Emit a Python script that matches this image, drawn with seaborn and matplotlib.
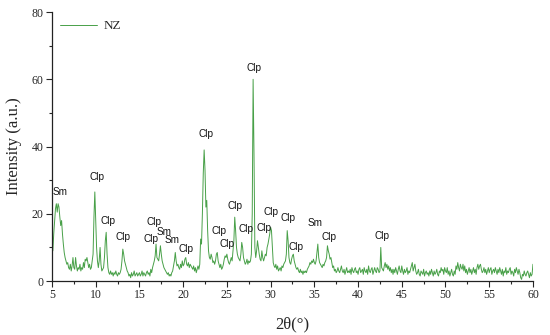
"""
XRD pattern of the NZ sample (clinoptilolite / smectite peaks)
"""

import numpy as np
import pandas as pd
import matplotlib
matplotlib.use("Agg")
import matplotlib.pyplot as plt
from matplotlib.ticker import MultipleLocator
import seaborn as sns

# scan grid, 2-theta in degrees (step 0.1)
two_theta = np.round(np.arange(5.0, 60.05, 0.1), 1)

# intensity, 5 degrees per block
i_05_10 = [10.5, 9.0, 14.0, 18.0, 21.5, 23.0, 20.5, 23.0, 22.0, 19.0,
           16.5, 18.0, 14.0, 11.0, 8.5, 7.0, 6.0, 5.0, 5.5, 4.0,
           3.5, 5.0, 3.0, 4.5, 7.0, 4.0, 3.5, 7.0, 4.5, 3.0,
           4.0, 3.5, 5.0, 3.0, 4.0, 3.5, 5.5, 4.0, 6.5, 6.0,
           7.0, 5.5, 4.0, 5.0, 3.5, 4.0, 6.0, 8.0, 19.0, 26.5]
i_10_15 = [18.0, 10.0, 6.0, 4.0, 6.0, 10.0, 5.0, 3.0, 3.5, 4.0,
           7.0, 12.0, 14.5, 8.0, 4.0, 2.5, 2.0, 3.0, 2.0, 2.5,
           1.5, 2.5, 2.0, 3.0, 2.0, 1.5, 2.5, 2.0, 2.5, 3.5,
           6.0, 9.5, 8.0, 6.0, 5.0, 4.0, 3.0, 2.5, 1.5, 2.0,
           1.0, 2.5, 1.5, 2.0, 3.0, 1.5, 2.0, 2.5, 1.5, 2.0]
i_15_20 = [2.5, 1.5, 2.0, 3.0, 1.5, 2.5, 2.0, 1.5, 2.5, 3.0,
           2.0, 2.5, 1.5, 3.5, 2.5, 4.0, 5.0, 6.0, 7.5, 11.0,
           7.0, 6.5, 6.0, 8.0, 10.5, 8.0, 6.0, 5.0, 4.0, 3.5,
           3.0, 2.5, 2.0, 2.5, 1.5, 2.0, 1.5, 2.5, 3.0, 4.5,
           6.0, 8.5, 6.0, 4.5, 5.0, 4.0, 3.5, 5.0, 4.0, 6.0]
i_20_25 = [4.5, 5.0, 6.5, 7.0, 5.0, 4.5, 5.5, 4.0, 5.0, 4.5,
           4.0, 3.5, 4.5, 3.0, 4.0, 2.5, 3.5, 4.5, 3.5, 5.0,
           12.5, 11.0, 20.0, 32.0, 39.0, 33.0, 22.0, 24.0, 15.0, 9.0,
           7.0, 6.5, 8.0, 7.0, 5.5, 6.0, 5.0, 6.0, 8.0, 8.5,
           6.0, 5.0, 4.0, 5.0, 3.5, 4.0, 5.0, 6.5, 7.5, 7.0]
i_25_30 = [8.0, 6.5, 5.5, 5.0, 6.0, 7.0, 6.0, 9.0, 12.0, 19.0,
           15.0, 10.0, 8.0, 7.0, 6.5, 6.0, 8.0, 11.5, 10.0, 7.0,
           6.0, 5.0, 5.5, 6.5, 5.0, 6.0, 5.5, 6.0, 8.0, 20.0,
           60.0, 38.0, 10.0, 7.0, 9.0, 12.0, 10.0, 8.0, 6.5, 6.0,
           9.0, 7.0, 6.0, 7.0, 8.0, 7.5, 10.0, 11.0, 12.5, 14.0]
i_30_35 = [16.0, 15.0, 10.0, 5.5, 4.5, 4.0, 5.0, 3.5, 4.5, 3.0,
           3.5, 4.0, 3.0, 4.5, 4.0, 5.0, 5.5, 6.0, 8.0, 15.0,
           12.0, 7.0, 5.5, 5.0, 6.5, 7.5, 8.0, 6.0, 5.0, 4.0,
           3.5, 4.0, 3.0, 2.5, 3.5, 2.5, 3.0, 2.0, 3.0, 2.5,
           3.0, 2.5, 3.5, 4.0, 4.5, 5.5, 5.0, 6.0, 5.5, 6.5]
i_35_40 = [5.5, 5.0, 6.0, 8.5, 11.0, 7.0, 5.5, 5.0, 4.5, 4.0,
           5.0, 4.5, 5.5, 6.0, 7.0, 10.5, 9.0, 8.0, 6.5, 7.0,
           5.5, 4.0, 4.5, 3.0, 3.5, 2.5, 3.0, 4.0, 3.0, 2.5,
           3.5, 4.5, 3.0, 2.5, 3.5, 2.0, 3.0, 4.0, 2.5, 3.0,
           2.5, 3.5, 2.0, 4.0, 3.0, 2.5, 3.5, 4.0, 2.5, 3.0]
i_40_45 = [2.0, 3.5, 4.0, 2.5, 3.0, 3.5, 2.0, 4.0, 3.0, 2.5,
           3.5, 2.0, 4.5, 3.0, 2.5, 3.5, 4.0, 2.0, 3.0, 4.0,
           3.0, 2.5, 4.0, 3.5, 2.5, 3.0, 10.0, 4.0, 3.5, 3.0,
           4.5, 5.5, 4.0, 5.0, 3.5, 4.5, 3.0, 4.0, 2.5, 3.5,
           2.0, 3.5, 2.5, 4.0, 3.0, 2.0, 3.5, 4.5, 3.0, 2.5]
i_45_50 = [4.5, 3.0, 2.0, 3.5, 2.5, 3.0, 4.0, 2.0, 3.0, 2.5,
           3.5, 4.5, 5.5, 3.0, 4.0, 5.0, 3.0, 2.0, 2.5, 3.5,
           2.0, 1.5, 3.0, 2.5, 2.0, 3.5, 1.5, 2.5, 3.0, 2.0,
           2.5, 1.5, 3.0, 2.0, 3.5, 2.5, 1.5, 3.0, 2.0, 2.5,
           3.5, 2.0, 1.5, 3.0, 2.5, 4.0, 3.0, 3.5, 2.0, 4.0]
i_50_55 = [3.0, 2.5, 4.0, 2.0, 3.0, 1.5, 2.5, 3.5, 2.0, 1.5,
           3.0, 2.0, 4.5, 3.5, 5.5, 4.0, 3.0, 5.0, 4.0, 3.5,
           5.0, 3.0, 4.5, 2.5, 3.5, 2.0, 3.0, 4.0, 2.5, 3.5,
           2.0, 3.0, 4.0, 2.5, 3.5, 2.0, 4.0, 5.0, 3.5, 4.5,
           5.0, 3.5, 2.5, 3.0, 4.0, 2.5, 3.5, 2.0, 3.0, 4.0]
i_55_60 = [2.5, 3.5, 4.0, 2.0, 3.0, 3.5, 2.5, 4.0, 3.0, 2.0,
           3.5, 2.5, 4.0, 3.0, 2.0, 3.5, 1.5, 3.0, 2.5, 4.0,
           2.0, 3.0, 2.5, 3.5, 4.0, 2.0, 3.0, 2.5, 1.5, 3.5,
           2.5, 4.0, 3.0, 2.0, 3.5, 2.5, 1.0, 0.5, 2.0, 1.5,
           3.0, 2.0, 1.5, 2.5, 3.0, 2.0, 1.0, 2.5, 1.5, 2.0,
           5.0]

# peak labels: text, 2-theta and height of the label
peak_names = ["Sm", "Clp", "Clp", "Clp", "Clp", "Sm", "Clp", "Sm", "Clp",
              "Clp", "Clp", "Clp", "Clp", "Clp", "Clp", "Clp", "Clp",
              "Clp", "Clp", "Sm", "Clp", "Clp"]
peak_x = [5.9, 10.1, 11.4, 13.1, 16.7, 17.8, 16.3, 18.7, 20.3,
          22.6, 24.1, 25.0, 25.9, 27.2, 28.1, 29.2, 30.1,
          32.0, 32.9, 35.1, 36.7, 42.7]
peak_y = [26.5, 31.0, 17.9, 13.1, 17.5, 14.6, 12.5, 12.2, 9.5,
          43.7, 14.9, 11.0, 22.3, 15.5, 63.4, 15.8, 20.5,
          18.8, 10.1, 17.3, 13.1, 13.4]

intensity = np.concatenate([i_05_10, i_10_15, i_15_20, i_20_25, i_25_30, i_30_35,
                            i_35_40, i_40_45, i_45_50, i_50_55, i_55_60])
df = pd.DataFrame({"two_theta": two_theta, "intensity": intensity})

sns.set_style("ticks")
plt.rcParams["font.family"] = ["Liberation Serif", "DejaVu Serif"]

fig = plt.figure(figsize=(5.5, 3.35), dpi=100)
ax = fig.add_axes([0.0945, 0.161, 0.8745, 0.803])

sns.lineplot(data=df, x="two_theta", y="intensity", ax=ax, color="#48a048",
             linewidth=0.7, estimator=None, sort=False, label="NZ")

for name, px, py in zip(peak_names, peak_x, peak_y):
    ax.text(px, py, name, ha="center", va="center", fontsize=7.2,
            family=["Liberation Sans", "DejaVu Sans"], color="#111111")

ax.set_xlim(5, 60)
ax.set_ylim(0, 80)
ax.xaxis.set_major_locator(MultipleLocator(5))
ax.xaxis.set_minor_locator(MultipleLocator(2.5))
ax.yaxis.set_major_locator(MultipleLocator(20))
ax.yaxis.set_minor_locator(MultipleLocator(10))
ax.tick_params(which="major", direction="out", length=4, width=0.8, labelsize=8.5, pad=2)
ax.tick_params(which="minor", direction="out", length=2.5, width=0.8)
for side in ["top", "right"]:
    ax.spines[side].set_visible(False)
for side in ["left", "bottom"]:
    ax.spines[side].set_linewidth(0.9)
    ax.spines[side].set_color("#222222")

ax.set_xlabel("2θ(°)", fontsize=12, labelpad=11)
ax.set_ylabel("Intensity (a.u.)", fontsize=12, labelpad=7)

ax.legend(loc="upper left", frameon=False, fontsize=9.5, handlelength=2.8,
          handletextpad=0.5, borderaxespad=0.2, bbox_to_anchor=(0.0, 1.0))

plt.savefig("out.png", dpi=100)
